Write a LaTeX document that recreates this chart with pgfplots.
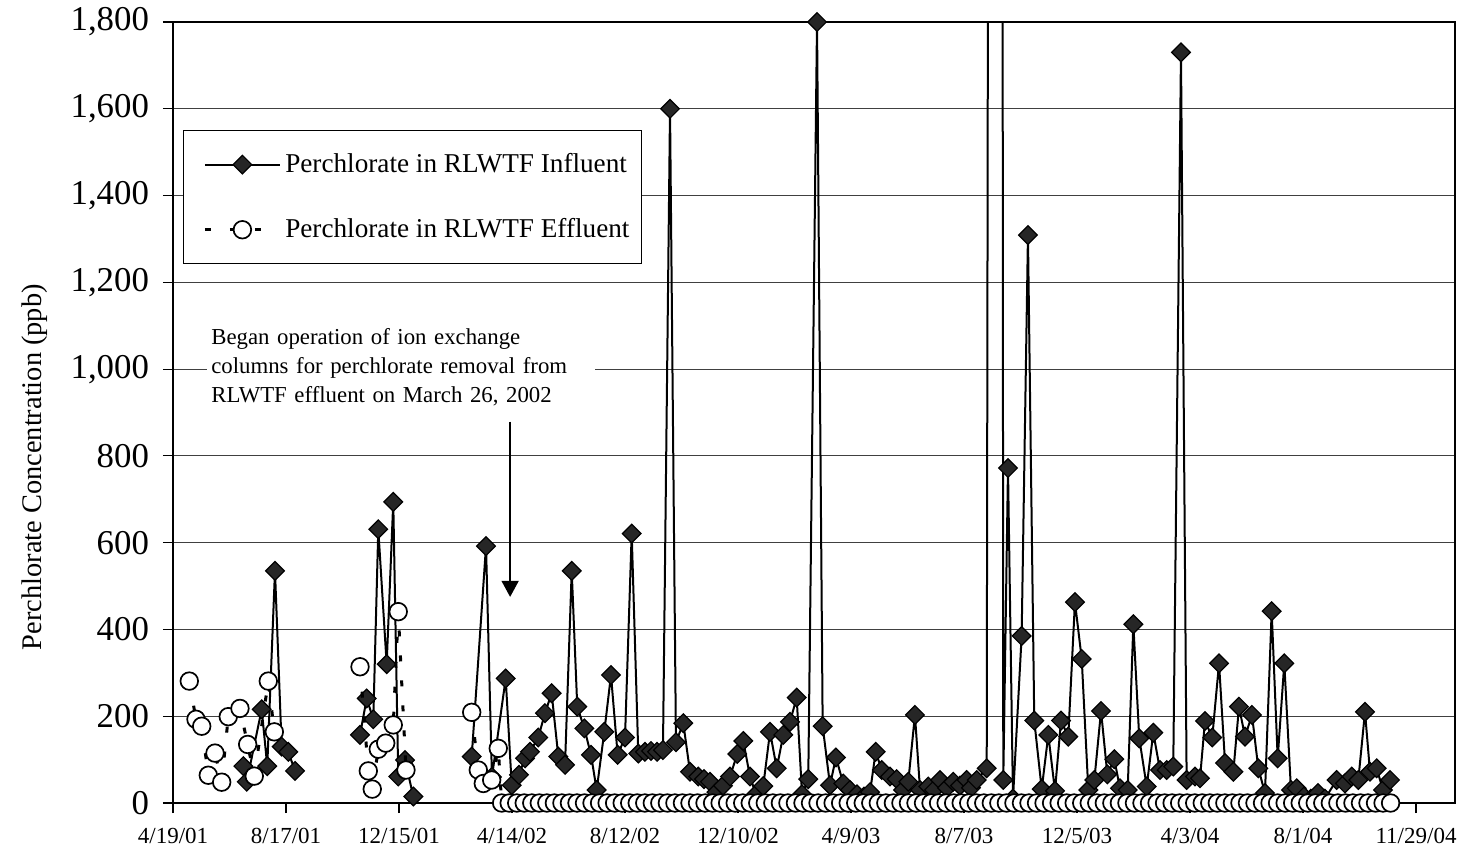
\documentclass[border=0pt]{standalone}
\usepackage{fontspec}
\setmainfont{Liberation Serif}
\usepackage{pgfplots}
\pgfplotsset{compat=1.18}
\usetikzlibrary{arrows.meta}
\begin{document}
\begin{tikzpicture}
\begin{axis}[
 name=ax,
 scale only axis, width=641pt, height=390.5pt,
 xmin=0, xmax=1361.4, ymin=0, ymax=1800,
 xtick={0,120,240,360,480,600,720,840,960,1080,1200,1320},
 xticklabels={4/19/01,8/17/01,12/15/01,4/14/02,8/12/02,12/10/02,4/9/03,8/7/03,12/5/03,4/3/04,8/1/04,11/29/04},
 ytick={0,200,400,600,800,1000,1200,1400,1600,1800},
 scaled y ticks=false,
 /pgf/number format/assume math mode=true,
 /pgf/number format/1000 sep={,},
 yticklabel style={font=\fontsize{17.4}{20}\selectfont, xshift=-3.5pt},
 xticklabel style={font=\fontsize{11.5}{13}\selectfont, yshift=-4pt},
 tick align=outside, xtick pos=bottom, ytick pos=left,
 major tick length=5pt,
 tick style={black, line width=0.6pt},
 axis line style={black, line width=0.7pt},
 ymajorgrids, grid style={black!75, line width=0.5pt},
 unbounded coords=jump,
 clip mode=individual,
 ylabel={Perchlorate Concentration (ppb)},
 every axis y label/.style={at={(rel axis cs:0,0.43)}, xshift=-69pt, rotate=90, anchor=center, font=\fontsize{14.2}{16}\selectfont},
 legend style={at={(0.0078,0.8617)}, anchor=north west, draw=black, line width=0.5pt, fill=white,
   font=\fontsize{13.6}{15}\selectfont, row sep=17.5pt, inner xsep=4pt, inner ysep=9.5pt},
 legend cell align=left,
 legend image code/.code={\path (-6pt,0pt); \draw[mark repeat=2,mark phase=2,#1] plot coordinates {(0pt,0pt) (18.7pt,0pt) (37.4pt,0pt)};},
]
\addplot[black, line width=1pt, mark=square*, mark size=3.3pt, mark options={rotate=45, solid, fill=black!85, draw=black, line width=0.6pt}] coordinates {
(74.7,85) (78.3,49) (94.2,216) (100.1,85) (108.3,535) (115.4,130) (122.4,118) (129.6,74)
(160,nan)
(198.6,157) (205.7,241) (212.7,193) (218.0,631) (226.9,320) (233.9,694) (239.2,61) (246.4,99) (255.2,15)
(290,nan)
(317.2,107) (332.4,592) (338.7,60) (353.3,287) (359.7,41) (367.4,65) (373.8,103) (379.1,118) (387.9,151) (395.0,207) (402.1,253) (409.2,107) (416.3,88) (423.4,535) (429.3,222) (436.8,172) (443.9,111) (449.9,30) (458.0,164) (465.1,295) (472.2,111) (480.0,151) (487.1,621) (494.1,114) (501.2,118) (507.6,120) (514.0,118) (520.3,122) (527.8,1600) (534.1,140) (541.9,184) (549.0,72) (557.8,61) (563.9,55) (570.2,49) (577,25) (584,40) (591.5,61) (599.2,113) (605.6,143) (612.7,61) (619,20) (626.8,39) (634.0,164) (641.1,80) (648.1,157) (655.2,187) (662.3,243) (668,20) (674.6,55) (683.9,1800) (689.9,177) (697.7,41) (704.0,105) (711.8,45) (718.9,30) (726.3,20) (733.8,15) (740.2,25) (746.2,118) (752.6,76) (761.4,61) (768.5,55) (775.2,30) (780.8,49) (787.9,203) (793.3,30) (802.1,38) (808.1,30) (814.5,53) (821.9,35) (828.6,49) (835.7,40) (842.8,53) (847.4,35) (853.5,53) (864.1,80) (867.6,5000) (879.8,5000) (881.7,53) (886.7,772) (892.0,10) (901.2,385) (907.9,1309) (914.6,190) (922.5,32) (929.5,157) (936.6,28) (943.0,190) (950.7,153) (957.8,463) (965.0,332) (972.0,30) (978.4,53) (985.5,212) (992.2,66) (999.6,101) (1005.6,34) (1013.8,30) (1019.8,412) (1026.1,149) (1034.0,38) (1041.0,162) (1048.1,76) (1055.2,76) (1062.2,84) (1070.4,1730) (1076.4,53) (1085.3,61) (1090.6,57) (1095.9,189) (1103.6,151) (1110.8,322) (1117.2,92) (1126.0,72) (1132.0,222) (1138.4,153) (1145.8,203) (1152.5,80) (1159.6,23) (1166.7,442) (1173.1,103) (1180.1,322) (1187.2,30) (1193.3,34) (1201.0,15) (1208.4,10) (1215.9,23) (1223.3,10) (1235.7,53) (1244.5,45) (1251.7,61) (1258.7,53) (1265.8,210) (1271.1,72) (1278.2,80) (1284.9,30) (1292.4,53)
};
\addlegendentry{Perchlorate in RLWTF Influent}
\addplot[black, line width=1.5pt, dash pattern=on 3pt off 9.5pt, mark=*, mark size=4.4pt, mark options={solid, fill=white, draw=black, line width=0.85pt}] coordinates {
(17.3,281) (24.4,193) (30.5,177) (37.5,64) (44.6,115) (51.7,48) (58.7,199) (71.1,218) (79.3,135) (86.3,62) (101.2,281) (107.6,164)
(150,nan)
(198.6,314) (207.4,74) (211.6,32) (218.0,124) (225.9,138) (233.9,180) (239.2,441) (247.4,76)
(280,nan)
(317.2,209) (324.2,76) (329.5,45) (338.4,53) (345.4,126)
(349,0) (357,0) (365,0) (373,0) (381,0) (389,0) (397,0) (405,0) (413,0) (421,0) (429,0) (437,0) (445,0) (453,0) (461,0) (469,0) (477,0) (485,0) (493,0) (501,0) (509,0) (517,0) (525,0) (533,0) (541,0) (549,0) (557,0) (565,0) (573,0) (581,0) (589,0) (597,0) (605,0) (613,0) (621,0) (629,0) (637,0) (645,0) (653,0) (661,0) (669,0) (677,0) (685,0) (693,0) (701,0) (709,0) (717,0) (725,0) (733,0) (741,0) (749,0) (757,0) (765,0) (773,0) (781,0) (789,0) (797,0) (805,0) (813,0) (821,0) (829,0) (837,0) (845,0) (853,0) (861,0) (869,0) (877,0) (885,0) (893,0) (901,0) (909,0) (917,0) (925,0) (933,0) (941,0) (949,0) (957,0) (965,0) (973,0) (981,0) (989,0) (997,0) (1005,0) (1013,0) (1021,0) (1029,0) (1037,0) (1045,0) (1053,0) (1061,0) (1069,0) (1077,0) (1085,0) (1093,0) (1101,0) (1109,0) (1117,0) (1125,0) (1133,0) (1141,0) (1149,0) (1157,0) (1165,0) (1173,0) (1181,0) (1189,0) (1197,0) (1205,0) (1213,0) (1221,0) (1229,0) (1237,0) (1245,0) (1253,0) (1261,0) (1269,0) (1277,0) (1285,0) (1293,0)
};
\addlegendentry{Perchlorate in RLWTF Effluent}
\node[fill=white, inner xsep=2pt, inner ysep=3pt, anchor=west, align=left, text width=190pt, font=\fontsize{11.4}{14.5}\selectfont] at (axis cs:36,1005) {Began operation of ion exchange\\columns for perchlorate removal from\\RLWTF effluent on March 26, 2002};
\draw[black, line width=0.7pt, -{Triangle[width=8.5pt, length=8pt]}] (axis cs:358,879) -- (axis cs:358,475);
\end{axis}
\pgfresetboundingbox
\path ([shift={(-86.5pt,-24pt)}]ax.south west) rectangle ([shift={(1.5pt,11pt)}]ax.north east);
\end{tikzpicture}
\end{document}
